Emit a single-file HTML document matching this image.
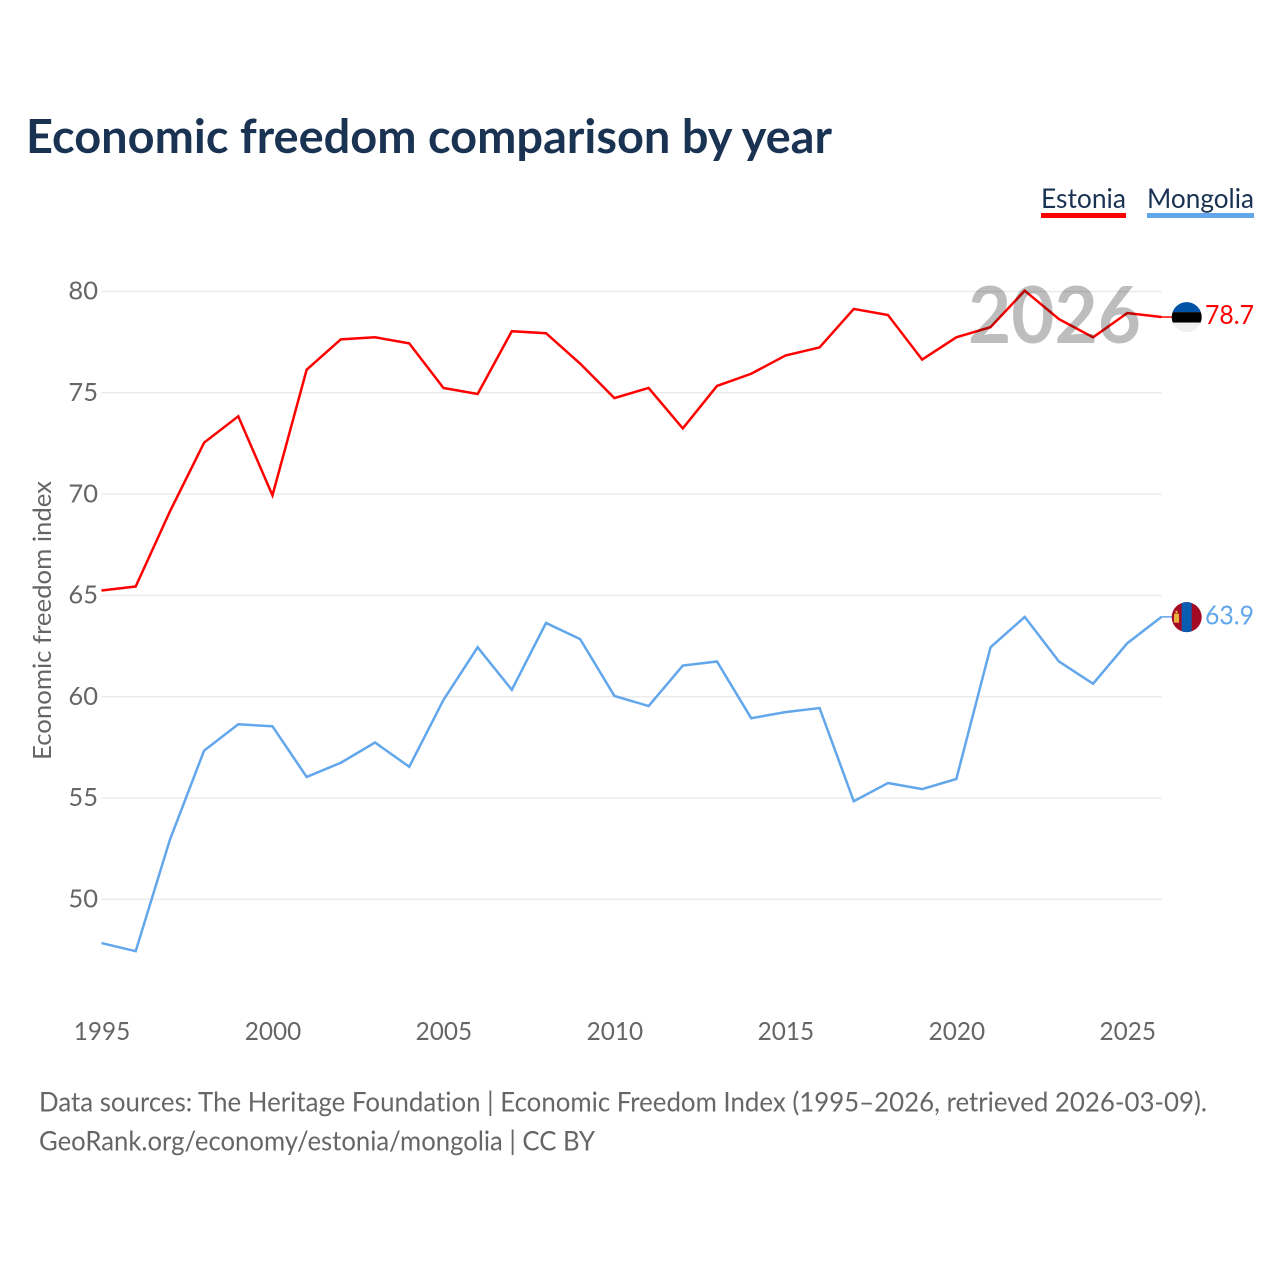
<!DOCTYPE html>
<html lang="en">
<head>
<meta charset="utf-8">
<title>Economic freedom comparison by year</title>
<style>
html,body{margin:0;padding:0;background:#fff;width:1280px;height:1280px;overflow:hidden}
svg{display:block}
text{font-family:"Lato","Carlito","Liberation Sans",sans-serif;font-variant-ligatures:none}
</style>
</head>
<body>
<svg id="chart" xmlns="http://www.w3.org/2000/svg" width="1280" height="1280" viewBox="0 0 1280 1280">
  <rect width="1280" height="1280" fill="#fff"/>
  <text x="26" y="153" font-size="46.5" font-weight="700" fill="#1a3353" textLength="806" lengthAdjust="spacingAndGlyphs">Economic freedom comparison by year</text>

  <g>
    <g>
      <text x="1041" y="208" font-size="27.5" fill="#1a3353" textLength="85" lengthAdjust="spacingAndGlyphs">Estonia</text>
      <rect x="1041" y="213" width="85" height="5" fill="#ff0000"/>
    </g>
    <g>
      <text x="1147" y="208" font-size="27.5" fill="#1a3353" textLength="107" lengthAdjust="spacingAndGlyphs">Mongolia</text>
      <rect x="1147" y="213" width="107" height="5" fill="#62a6ec"/>
    </g>
  </g>

  <g id="grid"></g>
  <g id="yticks"></g>
  <g id="xticks"></g>
  <text transform="translate(51 760) rotate(-90)" font-size="25.5" fill="#666" textLength="279" lengthAdjust="spacingAndGlyphs">Economic freedom index</text>

  <g id="series"></g>

  <text x="968" y="343" font-size="79" font-weight="700" fill="#000" fill-opacity="0.26" textLength="173" lengthAdjust="spacingAndGlyphs">2026</text>

  <defs>
    <clipPath id="clip-ee"><circle cx="1186.7" cy="0" r="15"/></clipPath>
    <clipPath id="clip-mn"><circle cx="1186.7" cy="0" r="15"/></clipPath>
  </defs>
  <g id="flag-ee" clip-path="url(#clip-ee)">
    <rect x="1171" y="-16" width="32" height="11" fill="#0053a5"/>
    <rect x="1171" y="-5" width="32" height="10.5" fill="#000"/>
    <rect x="1171" y="5.5" width="32" height="11" fill="#f0f0f0"/>
  </g>
  <g id="flag-mn" clip-path="url(#clip-mn)">
    <rect x="1171" y="-16" width="32" height="32" fill="#a50a24"/>
    <rect x="1181.7" y="-16" width="10" height="32" fill="#0a5cb0"/>
    <rect x="1174" y="-3.5" width="5" height="9" fill="#e9b23c"/>
    <rect x="1175.5" y="-6.5" width="2" height="2.5" fill="#e9b23c"/>
  </g>
  <text id="val-ee" x="1205" font-size="26.5" fill="#ff0000" textLength="49" lengthAdjust="spacingAndGlyphs"></text>
  <text id="val-mn" x="1205" font-size="26.5" fill="#62a6ec" textLength="49" lengthAdjust="spacingAndGlyphs"></text>

  <g>
    <text x="39" y="1111.7" font-size="27" fill="#666" textLength="1168" lengthAdjust="spacingAndGlyphs">Data sources: The Heritage Foundation | Economic Freedom Index (1995–2026, retrieved 2026-03-09).</text>
    <text x="39" y="1150.7" font-size="27" fill="#666" textLength="556" lengthAdjust="spacingAndGlyphs">GeoRank.org/economy/estonia/mongolia | CC BY</text>
  </g>
</svg>
<script>
const years = [1995,1996,1997,1998,1999,2000,2001,2002,2003,2004,2005,2006,2007,2008,2009,2010,2011,2012,2013,2014,2015,2016,2017,2018,2019,2020,2021,2022,2023,2024,2025,2026];
const estonia = [65.2,65.4,69.1,72.5,73.8,69.9,76.1,77.6,77.7,77.4,75.2,74.9,78.0,77.9,76.4,74.7,75.2,73.2,75.3,75.9,76.8,77.2,79.1,78.8,76.6,77.7,78.2,80.0,78.6,77.7,78.9,78.7];
const mongolia = [47.8,47.4,52.9,57.3,58.6,58.5,56.0,56.7,57.7,56.5,59.8,62.4,60.3,63.6,62.8,60.0,59.5,61.5,61.7,58.9,59.2,59.4,54.8,55.7,55.4,55.9,62.4,63.9,61.7,60.6,62.6,63.9];
const yTickValues = [50,55,60,65,70,75,80];
const xTickValues = [1995,2000,2005,2010,2015,2020,2025];

const NS = 'http://www.w3.org/2000/svg';
function xScale(year) { return 101.5 + (year - 1995) * (1161.5 - 101.5) / (2026 - 1995); }
function yScale(value) { return 899.3 - (value - 50) * (899.3 - 291.5) / (80 - 50); }
function yLine(value) { return yScale(value) - 0.8; }
function make(tag, attrs, parent) {
  const el = document.createElementNS(NS, tag);
  for (const k in attrs) el.setAttribute(k, attrs[k]);
  parent.appendChild(el);
  return el;
}
const grid = document.getElementById('grid');
const yticks = document.getElementById('yticks');
const xticks = document.getElementById('xticks');
const seriesGroup = document.getElementById('series');

yTickValues.forEach(function (v) {
  const line = make('line', {x1: 101.5, x2: 1161.5, y1: yScale(v), y2: yScale(v), stroke: '#ebebeb', 'stroke-width': 1.5}, grid);
  
  
  const t = make('text', {x: 98, y: yScale(v) + 8.2, 'font-size': 25.5, fill: '#666', 'text-anchor': 'end'}, yticks);
  t.textContent = v;
  
  
});
xTickValues.forEach(function (yr) {
  const t = make('text', {x: xScale(yr) + 0.5, y: 1040, 'font-size': 25.5, fill: '#666', 'text-anchor': 'middle', textLength: 56.5, lengthAdjust: 'spacingAndGlyphs'}, xticks);
  t.textContent = yr;
  
  
});
function pathFor(values) {
  return values.map(function (v, i) {
    return (i ? 'L' : 'M') + xScale(years[i]).toFixed(2) + ' ' + yLine(v).toFixed(2);
  }).join(' ');
}
const lineEstonia = make('path', {d: pathFor(estonia), fill: 'none', stroke: '#ff0000', 'stroke-width': 2.5, 'stroke-linejoin': 'miter'}, seriesGroup);


const lineMongolia = make('path', {d: pathFor(mongolia), fill: 'none', stroke: '#62a6ec', 'stroke-width': 2.5, 'stroke-linejoin': 'miter'}, seriesGroup);



const lastEstonia = estonia[estonia.length - 1];
const lastMongolia = mongolia[mongolia.length - 1];
const connectorEstonia = make('line', {x1: 1161.5, x2: 1172, y1: yLine(lastEstonia), y2: yLine(lastEstonia), stroke: '#ff0000', 'stroke-width': 1.5}, seriesGroup);


const connectorMongolia = make('line', {x1: 1161.5, x2: 1172, y1: yLine(lastMongolia), y2: yLine(lastMongolia), stroke: '#62a6ec', 'stroke-width': 1.5}, seriesGroup);



document.getElementById('flag-ee').setAttribute('transform', 'translate(0 ' + (yLine(lastEstonia) + 0.1) + ')');
document.getElementById('flag-mn').setAttribute('transform', 'translate(0 ' + (yLine(lastMongolia) + 0.3) + ')');
const valEe = document.getElementById('val-ee');
valEe.setAttribute('y', yLine(lastEstonia) + 7);
valEe.textContent = lastEstonia.toFixed(1);
const valMn = document.getElementById('val-mn');
valMn.setAttribute('y', yLine(lastMongolia) + 7.5);
valMn.textContent = lastMongolia.toFixed(1);
</script>
</body>
</html>
